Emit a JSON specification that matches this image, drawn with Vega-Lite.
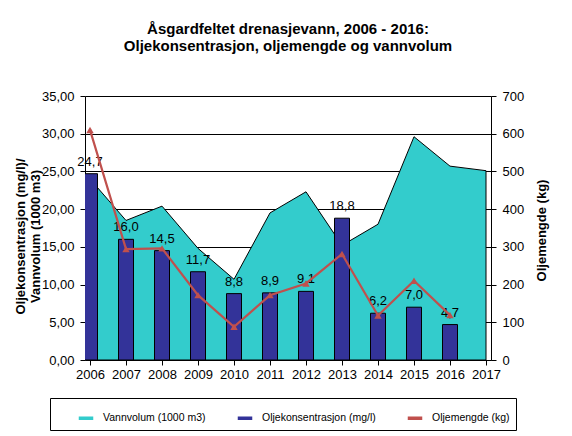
{
  "$schema": "https://vega.github.io/schema/vega-lite/v6.json",
  "width": 406,
  "height": 264,
  "autosize": {"type": "none"},
  "padding": {"left": 85, "top": 96, "right": 81, "bottom": 76},
  "background": "white",
  "config": {
    "font": "Liberation Sans",
    "view": {"stroke": null},
    "axis": {"labelColor": "black", "titleColor": "black", "domainColor": "black", "tickColor": "black", "labelFontSize": 13, "labelFont": "Liberation Sans", "titleFont": "Liberation Sans"}
  },
  "title": {
    "text": ["Åsgardfeltet drenasjevann, 2006 - 2016:", "Oljekonsentrasjon, oljemengde og vannvolum"],
    "fontSize": 15,
    "fontWeight": "bold",
    "font": "Liberation Sans",
    "color": "black",
    "anchor": "middle",
    "frame": "group",
    "baseline": "bottom",
    "lineHeight": 17,
    "offset": 21
  },
  "data": {
    "values": [
      {"year": 2006, "vann": 24.0, "kons": 24.7, "kg": 610},
      {"year": 2007, "vann": 18.5, "kons": 16.0, "kg": 294},
      {"year": 2008, "vann": 20.4, "kons": 14.5, "kg": 296},
      {"year": 2009, "vann": 14.8, "kons": 11.7, "kg": 172},
      {"year": 2010, "vann": 10.7, "kons": 8.8, "kg": 88},
      {"year": 2011, "vann": 19.5, "kons": 8.9, "kg": 172},
      {"year": 2012, "vann": 22.3, "kons": 9.1, "kg": 203},
      {"year": 2013, "vann": 15.2, "kons": 18.8, "kg": 281},
      {"year": 2014, "vann": 18.0, "kons": 6.2, "kg": 118},
      {"year": 2015, "vann": 29.6, "kons": 7.0, "kg": 210},
      {"year": 2016, "vann": 25.7, "kons": 4.7, "kg": 119},
      {"year": 2017, "vann": 25.1, "kons": null, "kg": null}
    ]
  },
  "encoding": {
    "x": {
      "field": "year",
      "type": "quantitative",
      "scale": {"domain": [2006, 2017], "nice": false, "zero": false},
      "axis": {"title": null, "values": [2006, 2007, 2008, 2009, 2010, 2011, 2012, 2013, 2014, 2015, 2016, 2017], "format": "d", "grid": false, "tickSize": 5, "labelPadding": 3, "labelFontSize": 13, "labelFlush": false, "labelOverlap": false, "domainWidth": 1}
    }
  },
  "layer": [
    {
      "layer": [
        {
          "mark": {"type": "area", "stroke": "black", "strokeWidth": 1, "opacity": 1},
          "encoding": {
            "y": {
              "field": "vann",
              "type": "quantitative",
              "scale": {"domain": [0, 35], "nice": false},
              "axis": {
                "title": ["Oljekonsentrasjon (mg/l)/", "Vannvolum (1000 m3)"],
                "titleFontSize": 13,
                "titleFontWeight": "bold",
                "titleAngle": 270,
                "titleBaseline": "bottom",
                "titleX": -58,
                "titleY": 140,
                "titleLineHeight": 15,
                "values": [0, 5, 10, 15, 20, 25, 30, 35],
                "labelExpr": "replace(format(datum.value, '.2f'), '.', ',')",
                "labelFontSize": 13,
                "grid": true,
                "gridColor": "black",
                "gridOpacity": 1,
                "gridWidth": 1,
                "tickSize": 5,
                "labelPadding": 6,
                "labelFlush": false,
                "labelOverlap": false
              }
            },
            "color": {
              "datum": "Vannvolum (1000 m3)",
              "type": "nominal",
              "scale": {
                "domain": ["Vannvolum (1000 m3)", "Oljekonsentrasjon (mg/l)", "Oljemengde (kg)"],
                "range": ["#33CCCC", "#333399", "#C0504D"]
              },
              "legend": {
                "orient": "none",
                "legendX": -35,
                "legendY": 302,
                "direction": "horizontal",
                "title": null,
                "strokeColor": "black",
                "fillColor": "white",
                "padding": 6,
                "columnPadding": 9,
                "symbolOffset": 16,
                "symbolType": "M-0.5,-0.08H0.5V0.08H-0.5Z",
                "symbolSize": 676,
                "labelFontSize": 10.5,
                "labelFont": "Liberation Sans",
                "labelColor": "black",
                "labelLimit": 250,
                "labelOffset": 3,
                "encode": {
                  "symbols": {
                    "update": {
                      "shape": {"signal": "datum.value === 'Oljemengde (kg)' ? 'M-0.5,0H0.5M-0.12,0.1L0,-0.11L0.12,0.1Z' : 'M-0.5,-0.08H0.5V0.08H-0.5Z'"},
                      "fill": {"signal": "scale('color', datum.value)"},
                      "stroke": {"signal": "datum.value === 'Oljemengde (kg)' ? '#C0504D' : 'black'"},
                      "strokeWidth": {"signal": "datum.value === 'Oljemengde (kg)' ? 2 : 1"},
                      "opacity": {"value": 1}
                    }
                  }
                }
              }
            }
          }
        },
        {
          "mark": {"type": "bar", "size": 15, "stroke": "black", "strokeWidth": 1, "clip": true},
          "encoding": {
            "y": {
              "field": "kons",
              "type": "quantitative",
              "axis": {
                "title": ["Oljekonsentrasjon (mg/l)/", "Vannvolum (1000 m3)"],
                "titleFontSize": 13,
                "titleFontWeight": "bold",
                "titleAngle": 270,
                "titleBaseline": "bottom",
                "titleX": -58,
                "titleY": 140,
                "titleLineHeight": 15,
                "values": [0, 5, 10, 15, 20, 25, 30, 35],
                "labelExpr": "replace(format(datum.value, '.2f'), '.', ',')",
                "labelFontSize": 13,
                "grid": true,
                "gridColor": "black",
                "gridOpacity": 1,
                "gridWidth": 1,
                "tickSize": 5,
                "labelPadding": 6,
                "labelFlush": false,
                "labelOverlap": false
              }
            },
            "color": {"datum": "Oljekonsentrasjon (mg/l)", "type": "nominal"}
          }
        },
        {
          "transform": [{"filter": "datum.kons != null"}, {"calculate": "replace(format(datum.kons, '.1f'), '.', ',')", "as": "lab"}],
          "mark": {"type": "text", "baseline": "bottom", "dy": -5, "fontSize": 13, "color": "black", "font": "Liberation Sans"},
          "encoding": {
            "y": {
              "field": "kons",
              "type": "quantitative",
              "axis": {
                "title": ["Oljekonsentrasjon (mg/l)/", "Vannvolum (1000 m3)"],
                "titleFontSize": 13,
                "titleFontWeight": "bold",
                "titleAngle": 270,
                "titleBaseline": "bottom",
                "titleX": -58,
                "titleY": 140,
                "titleLineHeight": 15,
                "values": [0, 5, 10, 15, 20, 25, 30, 35],
                "labelExpr": "replace(format(datum.value, '.2f'), '.', ',')",
                "labelFontSize": 13,
                "grid": true,
                "gridColor": "black",
                "gridOpacity": 1,
                "gridWidth": 1,
                "tickSize": 5,
                "labelPadding": 6,
                "labelFlush": false,
                "labelOverlap": false
              }
            },
            "text": {"field": "lab", "type": "nominal"}
          }
        }
      ]
    },
    {
      "transform": [{"filter": "datum.kg != null"}],
      "mark": {"type": "line", "strokeWidth": 2.2, "point": {"shape": "triangle-up", "size": 55, "filled": true, "opacity": 1}},
      "encoding": {
        "y": {
          "field": "kg",
          "type": "quantitative",
          "scale": {"domain": [0, 700], "nice": false},
          "axis": {
            "orient": "right",
            "title": "Oljemengde (kg)",
            "titleFontSize": 13,
            "titleFontWeight": "bold",
            "titleAngle": 270,
            "titleBaseline": "bottom",
            "titleX": 57,
            "titleY": 134,
            "values": [0, 100, 200, 300, 400, 500, 600, 700],
            "labelFontSize": 13,
            "grid": false,
            "tickSize": 5,
            "labelPadding": 6,
            "labelFlush": false,
            "labelOverlap": false
          }
        },
        "color": {"datum": "Oljemengde (kg)", "type": "nominal"}
      }
    }
  ],
  "resolve": {"scale": {"y": "independent"}}
}
